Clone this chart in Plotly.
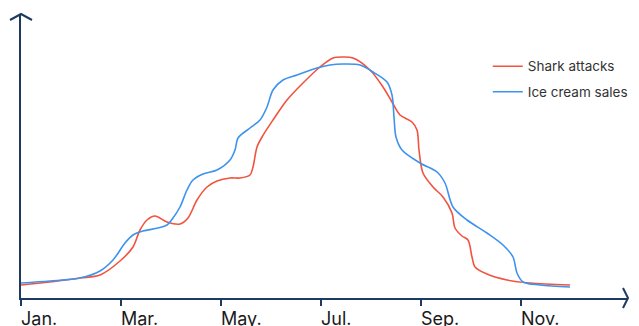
import plotly.graph_objects as go

# month index (0 = Jan) and relative values
shark_x = [0.00, 0.58, 1.18, 1.58, 1.98, 2.24, 2.38, 2.52, 2.68, 2.92, 3.18, 3.34, 3.52, 3.72, 3.92,
           4.18, 4.38, 4.58, 4.64, 4.72, 4.82, 5.04, 5.32, 5.64, 5.98, 6.24, 6.44, 6.64, 6.98, 7.24,
           7.42, 7.58, 7.82, 7.92, 7.96, 8.04, 8.24, 8.44, 8.62, 8.68, 8.82, 8.94, 9.02, 9.08, 9.32,
           9.72, 10.18, 10.98]
shark_y = [13, 16, 20, 23, 37, 51, 68, 78, 82, 76, 74, 80, 98, 111, 117,
           120, 120, 123, 131, 151, 161, 178, 198, 215, 231, 240, 241, 240, 228, 211,
           196, 183, 176, 168, 148, 125, 111, 101, 85, 70, 62, 58, 41, 31, 24,
           18, 15, 13]

ice_x = [0.00, 0.58, 1.18, 1.58, 1.84, 2.08, 2.24, 2.44, 2.74, 2.92, 3.04, 3.18, 3.32, 3.44, 3.64,
         3.92, 4.18, 4.28, 4.34, 4.58, 4.78, 4.92, 5.04, 5.24, 5.52, 5.92, 6.18, 6.44, 6.78, 7.04,
         7.32, 7.42, 7.46, 7.50, 7.62, 7.98, 8.32, 8.48, 8.64, 8.92, 9.32, 9.64, 9.84, 9.92, 10.04,
         10.38, 10.98]
ice_y = [15, 17, 20, 27, 38, 55, 63, 67, 70, 73, 80, 91, 108, 118, 124,
         128, 138, 148, 160, 170, 178, 191, 208, 218, 223, 230, 233, 234, 233, 226,
         216, 203, 181, 161, 148, 135, 126, 115, 91, 78, 65, 53, 41, 25, 16,
         13, 11]

tick_vals = [0, 2, 4, 6, 8, 10]
tick_text = ["Jan.", "Mar.", "May.", "Jul.", "Sep.", "Nov."]

RED = "#F2533E"
BLUE = "#3D93EE"
NAVY = "#1E3A62"

fig = go.Figure()
fig.add_trace(go.Scatter(x=shark_x, y=shark_y, mode="lines", name="Shark attacks",
                         legendgroup="a",
                         line=dict(color=RED, width=1.6, shape="spline", smoothing=0.9)))
fig.add_trace(go.Scatter(x=ice_x, y=ice_y, mode="lines", name="Ice cream sales",
                         legendgroup="b",
                         line=dict(color=BLUE, width=1.6, shape="spline", smoothing=0.9)))

# page body has an 8px margin; compensate so plot lands where the reference has it
W, H = 639, 326
L, R, T, B = 13, 19, 6, 36
fig.update_layout(
    width=W, height=H,
    margin=dict(l=L, r=R, t=T, b=B, autoexpand=False),
    plot_bgcolor="white", paper_bgcolor="white",
    font=dict(family="Inter", color="#222"),
    showlegend=True,
    legend=dict(x=0.769, y=0.87, xanchor="left", yanchor="top",
                font=dict(size=13.5, color="#333", family="Inter"),
                bgcolor="rgba(0,0,0,0)", tracegroupgap=5, itemwidth=30),
    xaxis=dict(range=[0, 12.14], showgrid=False, zeroline=False, showline=True,
               linecolor=NAVY, linewidth=2, tickvals=tick_vals, ticktext=tick_text,
               ticks="outside", ticklen=6, tickwidth=2, tickcolor=NAVY,
               showticklabels=False, fixedrange=True),
    yaxis=dict(range=[0, 284], showgrid=False, zeroline=False, showline=True,
               linecolor=NAVY, linewidth=2, showticklabels=False, ticks="",
               fixedrange=True),
)

for v, t in zip(tick_vals, tick_text):
    fig.add_annotation(x=v, y=0, xref="x", yref="paper", text=t, showarrow=False,
                       xanchor="left", yanchor="top", yshift=-8, xshift=-2,
                       font=dict(size=18, color="#1a1a1a", family="Inter"))

pw = W - L - R
ph = H - T - B
# axis arrowheads (chevrons)
fig.add_shape(type="path", xref="paper", yref="paper",
              path=f"M {-11/pw} {1-6/ph} L 0 1 L {11/pw} {1-6/ph}",
              line=dict(color=NAVY, width=2))
fig.add_shape(type="path", xref="paper", yref="paper",
              path=f"M {1-5/pw} {10/ph} L 1 0 L {1-5/pw} {-10/ph}",
              line=dict(color=NAVY, width=2))

fig.write_html("out.html")
